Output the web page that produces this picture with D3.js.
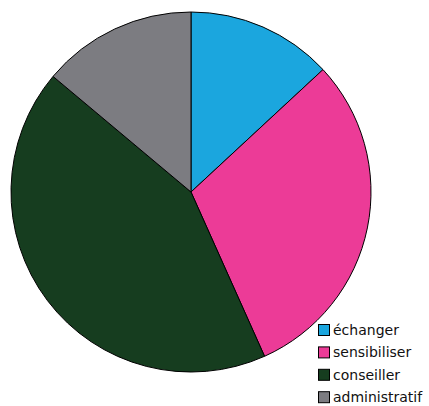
<!DOCTYPE html>
<html>
<head>
<meta charset="utf-8">
<script src="https://cdn.jsdelivr.net/npm/d3@7"></script>
<style>
  body { margin: 0; background: #fff; }
  svg { display: block; }
</style>
</head>
<body>
<div id="chart"></div>
<script>
const categories = ["échanger", "sensibiliser", "conseiller", "administratif"];
const values = [13.1, 30.2, 42.8, 13.9];
const colors = ["#1ba6de", "#ec3b97", "#163d1f", "#7c7c81"];

const width = 429, height = 406;
const cx = 191, cy = 192, radius = 180;

const color = d3.scaleOrdinal().domain(categories).range(colors);

const svg = d3.select("#chart").append("svg")
  .attr("width", width)
  .attr("height", height);

const pie = d3.pie().sort(null).value(d => d.value);
const arc = d3.arc().innerRadius(0).outerRadius(radius);

const data = categories.map((c, i) => ({ name: c, value: values[i] }));

svg.append("g")
  .attr("transform", `translate(${cx},${cy})`)
  .selectAll("path")
  .data(pie(data))
  .enter()
  .append("path")
  .attr("d", arc)
  .attr("fill", d => color(d.data.name))
  .attr("stroke", "#000")
  .attr("stroke-width", 1);

// legend
const legend = svg.append("g").attr("transform", "translate(318,324)");
const row = legend.selectAll("g")
  .data(categories)
  .enter()
  .append("g")
  .attr("transform", (d, i) => `translate(0,${i * 22.4})`);

row.append("rect")
  .attr("x", 0.5).attr("y", 0.5)
  .attr("width", 11).attr("height", 11)
  .attr("fill", d => color(d))
  .attr("stroke", "#000")
  .attr("stroke-width", 1);

row.append("text")
  .attr("x", 15)
  .attr("y", 11)
  .style("font-family", "DejaVu Sans, sans-serif")
  .style("font-size", "14px")
  .attr("fill", "#111")
  .text(d => d);
</script>
</body>
</html>
